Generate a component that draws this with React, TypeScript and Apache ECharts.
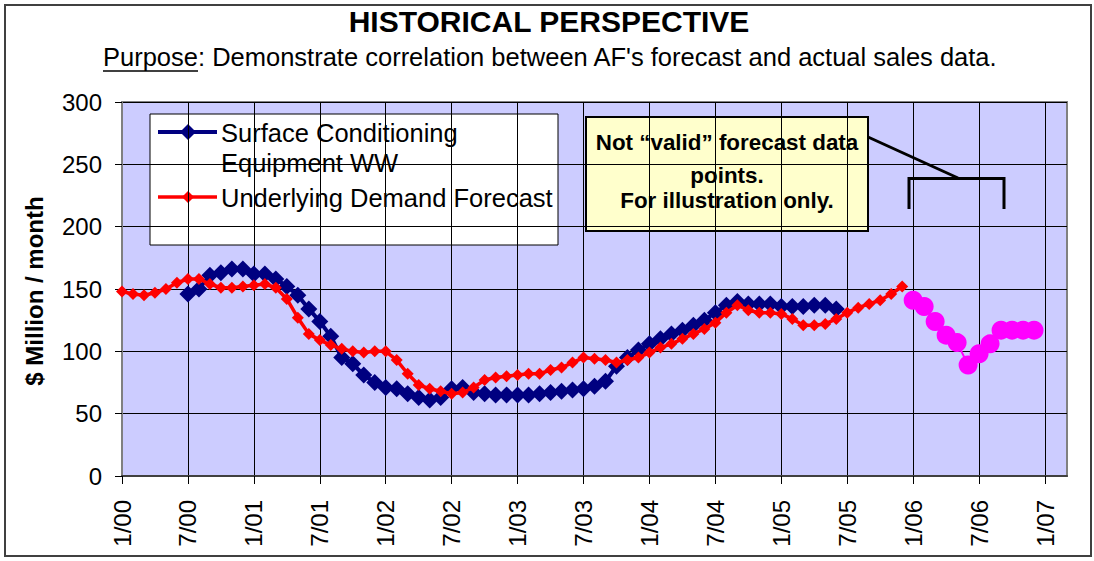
import React, { useEffect, useRef } from 'react';
import * as echarts from 'echarts';

const FONT = 'Arial, "Liberation Sans", Helvetica, sans-serif';

// x axis: months since 1/00
const xTickLabels = ['1/00', '7/00', '1/01', '7/01', '1/02', '7/02', '1/03', '7/03', '1/04', '7/04', '1/05', '7/05', '1/06', '7/06', '1/07'];
const monthsPerTick = 6;
const axisMaxMonth = 86;

const yMin = 0;
const yMax = 300;
const yStep = 50;

// Underlying Demand Forecast, monthly from 1/00
const forecastStart = 0;
const forecastValues = [
  148, 146, 145, 147, 150, 155, 158, 158, 154, 151, 151, 152,
  153, 154, 151, 142, 127, 114, 109, 105, 102, 100, 99, 100,
  100, 93, 82, 73, 70, 68, 66, 67, 71, 77, 79, 80,
  81, 82, 82, 85, 87, 91, 95, 94, 93, 91, 93, 95,
  99, 103, 106, 110, 114, 118, 123, 131, 137, 133, 131, 131,
  130, 126, 121, 121, 122, 126, 131, 135, 138, 141, 146, 152,
];

// Surface Conditioning Equipment WW, monthly from 7/00
const actualStart = 6;
const actualValues = [
  146, 150, 161, 163, 166, 166,
  162, 162, 158, 152, 145, 134, 124, 112, 95, 90, 81, 75,
  71, 70, 66, 63, 61, 63, 70, 71, 67, 66, 65, 65,
  65, 65, 66, 67, 68, 69, 70, 72, 76, 88, 95, 101,
  106, 110, 114, 117, 121, 125, 131, 137, 140, 138, 138, 138,
  136, 136, 136, 137, 137, 134,
];

// Illustrative (not valid) forecast points, monthly from 1/06
const illustrativeStart = 72;
const illustrativeValues = [141, 136, 124, 113, 107, 89, 98, 106, 117, 117, 117, 117];

const actualName = 'Surface Conditioning Equipment WW';
const forecastName = 'Underlying Demand Forecast';
const illustrativeName = 'Illustrative forecast';

const tickValues = xTickLabels.map((_, i) => i * monthsPerTick);

export default function App() {
  const ref = useRef<HTMLDivElement>(null);

  useEffect(() => {
    document.body.style.margin = '0';
    const chart = echarts.init(ref.current!, undefined, { renderer: 'svg' });

    const legendItems = [
      { type: 'rect', shape: { x: 150, y: 114, width: 408, height: 131 }, style: { fill: '#fff', stroke: '#000', lineWidth: 1 } },
      { type: 'line', shape: { x1: 158, y1: 132, x2: 217, y2: 132 }, style: { stroke: '#000080', lineWidth: 4 } },
      { type: 'polygon', shape: { points: [[188, 124], [196, 132], [188, 140], [180, 132]] }, style: { fill: '#000080' } },
      { type: 'text', x: 221, y: 132.5, style: { text: 'Surface Conditioning', fontSize: 25.5, fontFamily: FONT, fill: '#000', align: 'left', verticalAlign: 'middle' } },
      { type: 'text', x: 221, y: 162.5, style: { text: 'Equipment WW', fontSize: 25.5, fontFamily: FONT, fill: '#000', align: 'left', verticalAlign: 'middle' } },
      { type: 'line', shape: { x1: 158, y1: 197, x2: 217, y2: 197 }, style: { stroke: '#FF0000', lineWidth: 3.5 } },
      { type: 'polygon', shape: { points: [[188, 191], [194, 197], [188, 203], [182, 197]] }, style: { fill: '#FF0000' } },
      { type: 'text', x: 221, y: 197.5, style: { text: 'Underlying Demand Forecast', fontSize: 25.5, fontFamily: FONT, fill: '#000', align: 'left', verticalAlign: 'middle' } },
    ];

    const noteItems = [
      { type: 'line', shape: { x1: 868, y1: 137, x2: 958, y2: 178 }, style: { stroke: '#000', lineWidth: 3 } },
      { type: 'polyline', shape: { points: [[909, 209], [909, 178.5], [1004, 178.5], [1004, 209]] }, style: { stroke: '#000', lineWidth: 3, fill: 'none' } },
      { type: 'rect', shape: { x: 586, y: 117, width: 282, height: 114 }, style: { fill: '#FFFFCC', stroke: '#000', lineWidth: 2 } },
      { type: 'text', x: 727, y: 142.5, style: { text: 'Not \u201cvalid\u201d forecast data', fontSize: 22.4, fontWeight: 'bold', fontFamily: FONT, fill: '#000', align: 'center', verticalAlign: 'middle' } },
      { type: 'text', x: 727, y: 175.5, style: { text: 'points.', fontSize: 22.4, fontWeight: 'bold', fontFamily: FONT, fill: '#000', align: 'center', verticalAlign: 'middle' } },
      { type: 'text', x: 727, y: 200, style: { text: 'For illustration only.', fontSize: 22.4, fontWeight: 'bold', fontFamily: FONT, fill: '#000', align: 'center', verticalAlign: 'middle' } },
    ];

    chart.setOption({
      animation: false,
      backgroundColor: '#fff',
      grid: {
        left: 122, top: 102, width: 945, height: 374,
        show: true, backgroundColor: '#CCCCFF', borderColor: '#808080', borderWidth: 2,
      },
      xAxis: {
        type: 'value', min: 0, max: axisMaxMonth, interval: monthsPerTick,
        axisLine: { show: true, onZero: false, lineStyle: { color: '#404040', width: 2 } },
        axisTick: { show: true, length: 8, lineStyle: { color: '#000', width: 1 }, customValues: tickValues },
        axisLabel: {
          customValues: tickValues,
          formatter: (v: number) => {
            const i = Math.round(v / monthsPerTick);
            return v % monthsPerTick === 0 && xTickLabels[i] ? xTickLabels[i] : '';
          },
          rotate: 90, margin: 24, fontSize: 24, color: '#000', fontFamily: FONT,
        },
        splitLine: { show: true, lineStyle: { color: '#000', width: 1 } },
      },
      yAxis: {
        type: 'value', min: yMin, max: yMax, interval: yStep,
        axisLine: { show: true, lineStyle: { color: '#808080', width: 2 } },
        axisTick: { show: true, length: 7, lineStyle: { color: '#000', width: 1 } },
        axisLabel: { margin: 20, fontSize: 24, color: '#000', fontFamily: FONT },
        splitLine: { show: true, lineStyle: { color: '#000', width: 1 } },
      },
      series: [
        {
          type: 'line', name: actualName,
          data: actualValues.map((v, i) => [actualStart + i, v]),
          symbol: 'diamond', symbolSize: 17, showSymbol: true,
          itemStyle: { color: '#000080' }, lineStyle: { color: '#000080', width: 4 },
          z: 2,
        },
        {
          type: 'line', name: forecastName,
          data: forecastValues.map((v, i) => [forecastStart + i, v]),
          symbol: 'diamond', symbolSize: 12, showSymbol: true,
          itemStyle: { color: '#FF0000' }, lineStyle: { color: '#FF0000', width: 3.5 },
          z: 3,
        },
        {
          type: 'line', name: illustrativeName,
          data: illustrativeValues.map((v, i) => [illustrativeStart + i, v]),
          symbol: 'circle', symbolSize: 19, showSymbol: true,
          itemStyle: { color: '#FF00FF' }, lineStyle: { color: '#FF00FF', width: 2 },
          z: 4,
        },
      ],
      graphic: [
        { type: 'rect', silent: true, shape: { x: 5, y: 5, width: 1086, height: 551 }, style: { fill: 'none', stroke: '#404040', lineWidth: 2 }, z: 0 },
        { type: 'text', x: 549, y: 21, style: { text: 'HISTORICAL PERSPECTIVE', fontSize: 30, fontWeight: 'bold', fontFamily: FONT, fill: '#000', align: 'center', verticalAlign: 'middle' } },
        { type: 'text', x: 103, y: 57, style: { text: "Purpose: Demonstrate correlation between AF's forecast and actual sales data.", fontSize: 25.5, fontFamily: FONT, fill: '#000', align: 'left', verticalAlign: 'middle' } },
        { type: 'line', shape: { x1: 103, y1: 71, x2: 198, y2: 71 }, style: { stroke: '#000', lineWidth: 1.5 } },
        { type: 'text', x: 34, y: 291, rotation: Math.PI / 2, style: { text: '$ Million / month', fontSize: 24, fontWeight: 'bold', fontFamily: FONT, fill: '#000', align: 'center', verticalAlign: 'middle' } },
        { type: 'group', z: 100, children: legendItems },
        { type: 'group', z: 100, children: noteItems },
      ],
    });

    return () => chart.dispose();
  }, []);

  return <div ref={ref} style={{ width: 1094, height: 561, background: '#fff' }} />;
}
